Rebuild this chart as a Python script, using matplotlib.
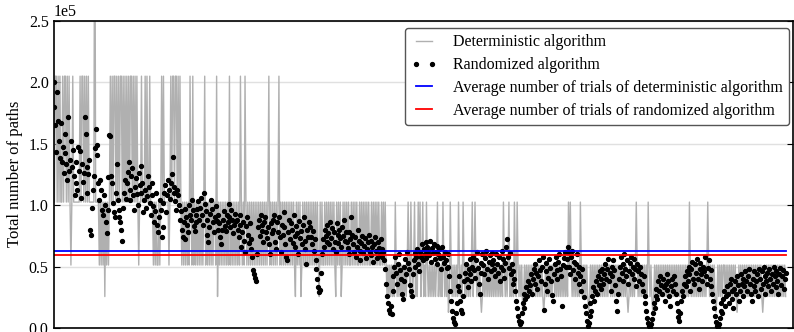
import matplotlib
matplotlib.use("Agg")
import matplotlib.pyplot as plt
import numpy as np

# number of paths per test case (in thousands), deterministic algorithm
deterministic = [
    204.8, 102.4, 204.8, 204.8, 102.4, 204.8, 102.4, 204.8, 102.4, 102.4,
    204.8, 102.4, 204.8, 204.8, 102.4, 204.8, 102.4, 204.8, 102.4, 51.2,
    102.4, 204.8, 102.4, 102.4, 102.4, 102.4, 102.4, 102.4, 102.4, 204.8,
    102.4, 204.8, 204.8, 102.4, 204.8, 102.4, 204.8, 102.4, 204.8, 102.4,
    102.4, 102.4, 102.4, 102.4, 102.4, 409.6, 102.4, 102.4, 102.4, 102.4,
    51.2, 102.4, 51.2, 102.4, 51.2, 102.4, 25.6, 102.4, 51.2, 102.4,
    51.2, 102.4, 204.8, 102.4, 204.8, 102.4, 204.8, 204.8, 102.4, 204.8,
    102.4, 204.8, 102.4, 204.8, 204.8, 102.4, 204.8, 102.4, 204.8, 102.4,
    204.8, 102.4, 204.8, 102.4, 204.8, 204.8, 102.4, 204.8, 102.4, 204.8,
    102.4, 204.8, 102.4, 51.2, 102.4, 102.4, 204.8, 102.4, 102.4, 102.4,
    204.8, 102.4, 204.8, 102.4, 102.4, 204.8, 102.4, 102.4, 102.4, 51.2,
    102.4, 51.2, 102.4, 51.2, 51.2, 102.4, 51.2, 102.4, 204.8, 102.4,
    204.8, 102.4, 102.4, 102.4, 102.4, 102.4, 51.2, 102.4, 204.8, 102.4,
    204.8, 204.8, 102.4, 204.8, 204.8, 102.4, 204.8, 102.4, 204.8, 102.4,
    51.2, 102.4, 51.2, 102.4, 51.2, 102.4, 51.2, 102.4, 51.2, 204.8,
    102.4, 51.2, 204.8, 51.2, 102.4, 51.2, 102.4, 51.2, 102.4, 51.2,
    102.4, 51.2, 102.4, 51.2, 102.4, 204.8, 51.2, 102.4, 51.2, 102.4,
    51.2, 102.4, 51.2, 102.4, 51.2, 102.4, 102.4, 51.2, 204.8, 25.6,
    102.4, 51.2, 102.4, 51.2, 102.4, 51.2, 102.4, 51.2, 102.4, 51.2,
    102.4, 51.2, 204.8, 51.2, 102.4, 51.2, 102.4, 51.2, 102.4, 51.2,
    102.4, 51.2, 102.4, 51.2, 204.8, 102.4, 51.2, 102.4, 51.2, 204.8,
    102.4, 51.2, 102.4, 51.2, 102.4, 51.2, 102.4, 51.2, 102.4, 51.2,
    102.4, 51.2, 102.4, 51.2, 102.4, 51.2, 102.4, 51.2, 102.4, 51.2,
    102.4, 51.2, 102.4, 51.2, 102.4, 204.8, 51.2, 102.4, 51.2, 102.4,
    51.2, 102.4, 51.2, 102.4, 51.2, 102.4, 204.8, 51.2, 102.4, 51.2,
    102.4, 51.2, 102.4, 51.2, 102.4, 51.2, 102.4, 51.2, 102.4, 51.2,
    102.4, 51.2, 102.4, 51.2, 25.6, 102.4, 51.2, 102.4, 51.2, 102.4,
    25.6, 51.2, 102.4, 51.2, 102.4, 51.2, 102.4, 51.2, 102.4, 51.2,
    102.4, 51.2, 102.4, 51.2, 102.4, 51.2, 102.4, 51.2, 102.4, 51.2,
    25.6, 102.4, 51.2, 102.4, 51.2, 51.2, 102.4, 51.2, 102.4, 51.2,
    102.4, 51.2, 102.4, 51.2, 102.4, 51.2, 102.4, 51.2, 25.6, 102.4,
    51.2, 102.4, 51.2, 102.4, 25.6, 51.2, 102.4, 51.2, 102.4, 51.2,
    102.4, 51.2, 102.4, 51.2, 51.2, 102.4, 51.2, 102.4, 51.2, 102.4,
    51.2, 102.4, 51.2, 51.2, 102.4, 51.2, 102.4, 51.2, 102.4, 51.2,
    102.4, 51.2, 102.4, 51.2, 102.4, 51.2, 51.2, 102.4, 51.2, 102.4,
    51.2, 102.4, 51.2, 102.4, 51.2, 102.4, 51.2, 51.2, 102.4, 51.2,
    102.4, 51.2, 102.4, 51.2, 25.6, 51.2, 25.6, 51.2, 25.6, 51.2,
    25.6, 51.2, 25.6, 102.4, 51.2, 25.6, 51.2, 25.6, 51.2, 25.6,
    51.2, 25.6, 51.2, 25.6, 51.2, 25.6, 51.2, 102.4, 51.2, 25.6,
    102.4, 51.2, 25.6, 51.2, 102.4, 25.6, 51.2, 25.6, 102.4, 51.2,
    102.4, 25.6, 51.2, 102.4, 25.6, 51.2, 25.6, 102.4, 51.2, 25.6,
    51.2, 25.6, 51.2, 25.6, 51.2, 25.6, 51.2, 25.6, 51.2, 102.4,
    25.6, 51.2, 25.6, 51.2, 25.6, 102.4, 51.2, 25.6, 51.2, 25.6,
    51.2, 12.8, 25.6, 102.4, 51.2, 25.6, 51.2, 25.6, 51.2, 25.6,
    51.2, 25.6, 102.4, 51.2, 25.6, 51.2, 25.6, 102.4, 51.2, 25.6,
    51.2, 25.6, 51.2, 25.6, 51.2, 25.6, 51.2, 102.4, 25.6, 51.2,
    102.4, 51.2, 25.6, 51.2, 25.6, 51.2, 25.6, 12.8, 25.6, 51.2,
    25.6, 51.2, 25.6, 51.2, 25.6, 51.2, 25.6, 51.2, 25.6, 51.2,
    25.6, 51.2, 25.6, 51.2, 25.6, 51.2, 25.6, 51.2, 25.6, 51.2,
    25.6, 102.4, 51.2, 25.6, 51.2, 25.6, 51.2, 102.4, 25.6, 51.2,
    25.6, 51.2, 25.6, 102.4, 51.2, 25.6, 102.4, 51.2, 25.6, 51.2,
    25.6, 51.2, 12.8, 25.6, 51.2, 25.6, 51.2, 25.6, 51.2, 25.6,
    51.2, 25.6, 51.2, 25.6, 51.2, 51.2, 25.6, 51.2, 25.6, 51.2,
    25.6, 51.2, 25.6, 51.2, 25.6, 12.8, 25.6, 51.2, 25.6, 51.2,
    25.6, 51.2, 25.6, 51.2, 25.6, 51.2, 51.2, 25.6, 51.2, 25.6,
    51.2, 25.6, 51.2, 25.6, 51.2, 25.6, 51.2, 25.6, 51.2, 25.6,
    51.2, 25.6, 102.4, 51.2, 102.4, 51.2, 25.6, 51.2, 25.6, 51.2,
    25.6, 51.2, 25.6, 51.2, 25.6, 102.4, 51.2, 25.6, 51.2, 25.6,
    51.2, 25.6, 51.2, 25.6, 12.8, 25.6, 51.2, 25.6, 51.2, 25.6,
    51.2, 25.6, 51.2, 25.6, 51.2, 25.6, 51.2, 25.6, 51.2, 25.6,
    51.2, 25.6, 51.2, 25.6, 51.2, 25.6, 51.2, 51.2, 25.6, 51.2,
    25.6, 51.2, 25.6, 51.2, 25.6, 51.2, 25.6, 51.2, 25.6, 51.2,
    25.6, 51.2, 25.6, 51.2, 25.6, 51.2, 25.6, 12.8, 25.6, 51.2,
    25.6, 51.2, 25.6, 51.2, 25.6, 51.2, 102.4, 51.2, 25.6, 51.2,
    25.6, 51.2, 25.6, 51.2, 25.6, 51.2, 25.6, 51.2, 25.6, 102.4,
    51.2, 25.6, 51.2, 25.6, 12.8, 25.6, 51.2, 25.6, 51.2, 25.6,
    51.2, 25.6, 51.2, 25.6, 51.2, 25.6, 51.2, 25.6, 51.2, 25.6,
    51.2, 25.6, 51.2, 25.6, 51.2, 25.6, 51.2, 25.6, 51.2, 25.6,
    51.2, 25.6, 51.2, 25.6, 51.2, 25.6, 51.2, 25.6, 51.2, 25.6,
    51.2, 25.6, 51.2, 25.6, 102.4, 51.2, 25.6, 51.2, 25.6, 51.2,
    25.6, 51.2, 25.6, 51.2, 25.6, 51.2, 25.6, 51.2, 25.6, 51.2,
    25.6, 51.2, 25.6, 51.2, 102.4, 51.2, 25.6, 51.2, 25.6, 51.2,
    25.6, 51.2, 25.6, 12.8, 25.6, 51.2, 25.6, 51.2, 25.6, 51.2,
    25.6, 51.2, 51.2, 25.6, 51.2, 25.6, 51.2, 25.6, 51.2, 25.6,
    51.2, 25.6, 51.2, 25.6, 51.2, 25.6, 12.8, 25.6, 51.2, 25.6,
    51.2, 25.6, 51.2, 25.6, 51.2, 25.6, 51.2, 25.6, 51.2, 25.6,
    51.2, 25.6, 51.2, 25.6, 51.2, 25.6, 51.2, 25.6, 51.2, 25.6,
    51.2, 25.6, 51.2, 25.6, 12.8, 25.6, 51.2, 25.6, 51.2, 25.6,
    51.2, 25.6, 51.2, 25.6, 51.2, 25.6, 51.2, 25.6, 51.2, 25.6,
    51.2, 25.6, 51.2, 25.6, 51.2, 25.6, 51.2, 25.6, 51.2, 25.6,
]

# number of paths per test case (in thousands), randomized algorithm
randomized = [
    200, 180, 165, 143, 192, 168, 152, 138, 167, 135,
    147, 126, 158, 142, 133, 120, 172, 128, 137, 152,
    131, 145, 124, 108, 118, 135, 112, 147, 128, 144,
    106, 133, 119, 126, 172, 158, 131, 110, 125, 137,
    80, 76, 98, 112, 124, 146, 162, 149, 141, 118,
    104, 120, 112, 96, 92, 108, 100, 86, 77, 96,
    123, 157, 156, 124, 118, 102, 94, 90, 110, 133,
    104, 96, 90, 86, 80, 71, 98, 110, 120, 105,
    118, 127, 135, 112, 104, 124, 130, 108, 96, 115,
    122, 109, 100, 126, 116, 110, 132, 118, 94, 104,
    112, 98, 107, 124, 115, 102, 92, 118, 108, 99,
    86, 95, 110, 84, 78, 90, 104, 96, 74, 82,
    102, 110, 116, 94, 108, 120, 112, 105, 118, 125,
    139, 115, 110, 103, 96, 112, 108, 100, 88, 95,
    80, 74, 86, 97, 72, 90, 84, 78, 100, 92,
    88, 104, 96, 83, 79, 92, 86, 97, 103, 88,
    98, 106, 92, 84, 110, 101, 95, 88, 76, 70,
    82, 93, 104, 97, 86, 78, 90, 99, 87, 80,
    92, 85, 74, 68, 80, 88, 95, 83, 79, 92,
    86, 101, 90, 82, 96, 88, 77, 84, 93, 87,
    88, 80, 74, 92, 84, 66, 78, 86, 71, 62,
    83, 90, 76, 69, 85, 72, 64, 58, 47, 44,
    41, 38, 60, 82, 88, 75, 92, 84, 79, 70,
    86, 90, 78, 73, 82, 68, 60, 85, 77, 88,
    80, 92, 70, 64, 86, 78, 90, 74, 62, 84,
    76, 94, 82, 68, 58, 55, 78, 88, 72, 85,
    80, 69, 92, 75, 66, 83, 77, 60, 87, 73,
    79, 68, 84, 90, 71, 64, 52, 80, 74, 86,
    82, 74, 68, 79, 63, 72, 55, 48, 40, 33,
    29, 31, 45, 60, 72, 66, 80, 75, 84, 70,
    77, 68, 86, 73, 81, 64, 78, 70, 62, 85,
    76, 69, 80, 73, 66, 82, 75, 88, 71, 78,
    70, 65, 78, 60, 72, 90, 76, 68, 62, 74,
    58, 66, 80, 71, 63, 55, 69, 75, 61, 67,
    73, 57, 64, 70, 76, 62, 59, 71, 66, 54,
    68, 74, 63, 57, 70, 65, 60, 72, 58, 64,
    62, 55, 48, 36, 26, 20, 15, 12, 18, 11,
    30, 42, 50, 58, 45, 36, 52, 60, 47, 40,
    28, 24, 38, 50, 56, 44, 62, 53, 48, 35,
    30, 26, 44, 55, 61, 50, 58, 64, 52, 46,
    62, 58, 68, 55, 64, 60, 70, 57, 66, 63,
    59, 71, 54, 65, 61, 68, 56, 62, 67, 52,
    60, 64, 57, 48, 66, 58, 53, 62, 55, 49,
    60, 50, 42, 30, 22, 14, 8, 5, 3, 12,
    20, 34, 42, 30, 22, 15, 12, 26, 38, 45,
    52, 40, 33, 48, 56, 44, 38, 50, 58, 47,
    41, 55, 62, 49, 36, 28, 45, 53, 60, 51,
    44, 57, 63, 48, 40, 54, 59, 46, 52, 61,
    55, 48, 42, 60, 52, 45, 58, 38, 50, 63,
    47, 56, 41, 53, 66, 72, 58, 49, 61, 44,
    52, 36, 46, 40, 30, 22, 16, 10, 6, 3,
    5, 12, 20, 28, 16, 24, 33, 26, 38, 30,
    35, 44, 28, 40, 48, 36, 52, 45, 32, 42,
    55, 47, 38, 50, 58, 15, 36, 53, 46, 30,
    41, 56, 49, 38, 27, 22, 44, 52, 58, 47,
    40, 54, 60, 48, 42, 18, 51, 57, 62, 50,
    56, 62, 66, 50, 44, 58, 63, 47, 54, 40,
    52, 60, 45, 36, 50, 42, 30, 48, 38, 25,
    18, 12, 6, 2, 4, 10, 20, 14, 26, 33,
    22, 30, 38, 28, 42, 35, 46, 32, 40, 48,
    36, 44, 52, 40, 48, 56, 38, 45, 30, 50,
    42, 55, 47, 35, 22, 14, 28, 40, 50, 58,
    45, 52, 38, 60, 48, 42, 55, 36, 46, 53,
    58, 44, 50, 40, 56, 48, 34, 52, 46, 38,
    50, 44, 36, 30, 42, 26, 20, 14, 8, 4,
    2, 1, 3, 7, 12, 20, 16, 26, 32, 24,
    38, 30, 42, 35, 28, 40, 33, 22, 36, 44,
    31, 38, 26, 18, 34, 40, 30, 42, 36, 28,
    20, 14, 9, 6, 12, 22, 30, 26, 36, 42,
    34, 46, 38, 50, 44, 30, 48, 54, 40, 36,
    52, 45, 56, 40, 32, 48, 53, 44, 38, 50,
    46, 58, 42, 36, 49, 55, 40, 47, 34, 28,
    22, 16, 10, 5, 2, 1, 3, 8, 14, 20,
    12, 24, 30, 18, 26, 34, 28, 20, 36, 40,
    30, 24, 16, 32, 38, 28, 42, 35, 22, 30,
    44, 36, 40, 26, 34, 46, 38, 30, 42, 48,
    36, 28, 22, 40, 34, 46, 30, 38, 44, 26,
    48, 40, 32, 46, 36, 50, 42, 28, 38, 45,
    34, 48, 40, 30, 44, 36, 50, 42, 33, 46,
    38, 28, 44, 49, 35, 42, 47, 32, 40, 45,
]

# averages over all test cases (in thousands)
avg_deterministic = 62.7
avg_randomized = 59.5

plt.rcParams['font.family'] = ['Liberation Serif', 'DejaVu Serif']
plt.rcParams['font.size'] = 11.5

n = len(deterministic)
x = np.arange(n)
det = np.array(deterministic) * 1000
rnd = np.array(randomized) * 1000

fig = plt.figure(figsize=(7.94, 3.32), dpi=100)
ax = fig.add_axes([0.0674, 0.012, 0.9313, 0.926])

ax.plot(x, det, color='#b0b0b0', lw=1.0, label='Deterministic algorithm')
ax.plot(x, rnd, 'o', color='black', ms=2.8, mec='black', label='Randomized algorithm')
ax.plot([0, n - 1], [avg_deterministic * 1000] * 2, color='blue', lw=1.3,
        label='Average number of trials of deterministic algorithm')
ax.plot([0, n - 1], [avg_randomized * 1000] * 2, color='red', lw=1.3,
        label='Average number of trials of randomized algorithm')

ax.set_xlim(0, n + 7)
ax.set_ylim(0, 250000)
ax.set_yticks([0, 50000, 100000, 150000, 200000, 250000])
ax.ticklabel_format(axis='y', style='sci', scilimits=(5, 5))
ax.set_xticks([])
ax.tick_params(axis='y', direction='in', right=True, length=4)
ax.yaxis.grid(True, color='#e0e0e0', lw=1)
ax.set_axisbelow(True)
ax.set_ylabel('Total number of paths', fontsize=12)
for s in ax.spines.values():
    s.set_linewidth(1.2)

leg = ax.legend(loc='upper right', bbox_to_anchor=(0.9946, 0.9756), borderaxespad=0,
                numpoints=2, fontsize=11.5, framealpha=1, edgecolor='#555555',
                handlelength=1.6, handletextpad=1.0, labelspacing=0.42)
leg.get_frame().set_linewidth(1.0)

fig.savefig('out.png', dpi=100)
